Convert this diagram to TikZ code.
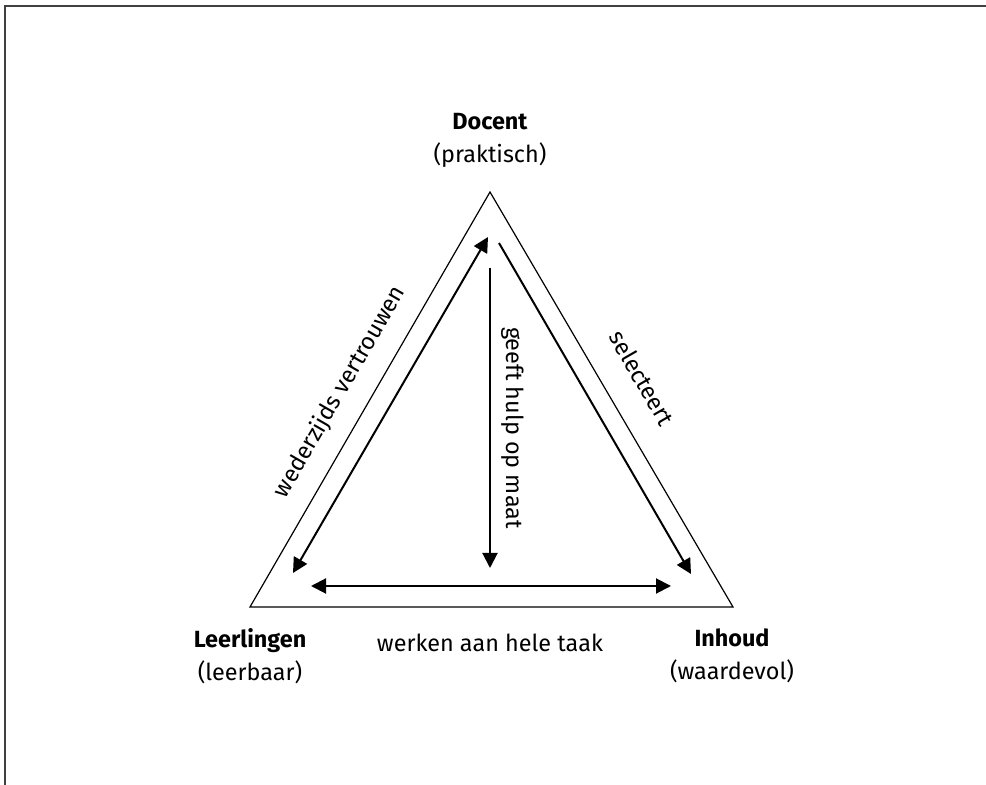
\documentclass[tikz,border=0pt]{standalone}
\usepackage{fontspec}
\setmainfont{Fira Sans}
\usepackage{tikz}
\usetikzlibrary{positioning,calc,arrows.meta}

\tikzset{
	side/.style={line width=0.6pt},
	relation/.style={line width=1pt, >={Triangle[length=7.5pt,width=7.5pt]}},
	corner/.style={align=center, font=\fontsize{11.7}{16.5}\selectfont, inner sep=0pt},
	lbl/.style={font=\fontsize{11.7}{14}\selectfont, inner sep=0pt},
}

\begin{document}
\begin{tikzpicture}[x=0.5pt, y=-0.5pt]
						\useasboundingbox (0,0) rectangle (986,785);
						\draw[line width=1pt, black!75] (986,6) -- (5,6) -- (5,785);

						\coordinate (TOP) at (490, 192);
						\coordinate (LEFT) at (250, 607);
						\coordinate (RIGHT) at (733, 607);

						\draw[side] (TOP) -- (RIGHT) -- (LEFT) -- cycle;

						\coordinate (A1) at (488, 237);
						\coordinate (A2) at (293, 573);
						\coordinate (B1) at (499, 243);
						\coordinate (B2) at (691, 574);
						\coordinate (C1) at (490, 268);
						\coordinate (C2) at (490, 568);
						\coordinate (D1) at (311, 586);
						\coordinate (D2) at (671, 586);

						\draw[relation, <->] (A1) -- (A2);
						\draw[relation, ->] (B1) -- (B2);
						\draw[relation, ->] (C1) -- (C2);
						\draw[relation, <->] (D1) -- (D2);

						\node[corner] (docent) at (490, 140) {\textbf{Docent}\\(praktisch)};
						\node[corner] (leerlingen) at (250, 656) {\textbf{Leerlingen}\\(leerbaar)};
						\node[corner] (inhoud) at (732, 656) {\textbf{Inhoud}\\(waardevol)};

						\node[lbl] (taak) at (490, 643) {werken aan hele taak};
						\node[lbl, rotate=60] (vertrouwen) at (340, 392) {wederzijds vertrouwen};
						\node[lbl, rotate=-60] (selecteert) at (642, 378) {selecteert};
						\node[lbl, rotate=-90] (hulp) at (513, 428) {geeft hulp op maat};
					\end{tikzpicture}
\end{document}
